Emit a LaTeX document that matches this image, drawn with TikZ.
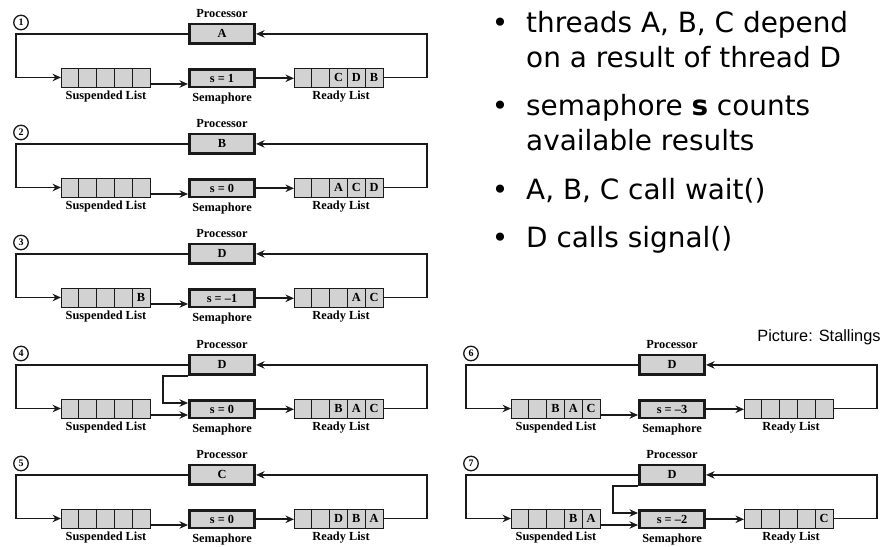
\documentclass[tikz,border=0pt]{standalone}
\usepackage{fontspec}
\setmainfont{Liberation Serif}
\newfontfamily\bulletfont{DejaVu Sans}
\newfontfamily\captfont{Liberation Sans}
\usetikzlibrary{arrows.meta}
\definecolor{boxgray}{HTML}{D2D2D2}
\definecolor{ink}{HTML}{1A1A1A}
\tikzset{
  procbox/.style={draw=ink, line width=2.6bp, fill=boxgray, minimum width=65.5bp,
    minimum height=19.6bp, inner sep=0pt, font=\bfseries\fontsize{12.4}{12.4}\selectfont},
  sembox/.style={procbox, minimum height=17.6bp},
  cell/.style={draw=ink, line width=0.9bp, fill=boxgray, minimum width=17.8bp,
    minimum height=19bp, inner sep=0pt, outer sep=0pt, font=\bfseries\fontsize{12.4}{12.4}\selectfont},
  lbl/.style={font=\bfseries\fontsize{12.4}{12.4}\selectfont, inner sep=0pt},
  conn/.style={draw=ink, line width=1.7bp, -{Stealth[length=8.5bp,width=7.5bp]}},
  numcirc/.style={circle, draw=ink, line width=1.3bp, minimum size=14.5bp, inner sep=0pt,
    font=\bfseries\fontsize{10}{10}\selectfont},
  bul/.style={font=\bulletfont\fontsize{28}{28}\selectfont, inner sep=0pt, anchor=base},
  btxt/.style={font=\bulletfont\fontsize{28}{28}\selectfont, inner sep=0pt, anchor=base west},
  capt/.style={font=\captfont\fontsize{16.4}{16.4}\selectfont, inner sep=0pt, anchor=base},
}
\newcommand\statepanel[7]{%
  \begin{scope}[shift={(#1,#2)}, name prefix=p#3-]
    \node[numcirc] (num) at (21,22.5) {#3};
    \node[lbl] (plabel) at (222,14) {Processor};
    \node[procbox] (proc) at (222,33.9) {#4};
    \node[sembox] (sem) at (222,78.3) {#5};
    \foreach \cc [count=\ci] in {#6} {\node[cell] (s\ci) at ({52.1+17.8*\ci},77.5) {\cc};}
    \foreach \cc [count=\ci] in {#7} {\node[cell] (r\ci) at ({285.1+17.8*\ci},77.5) {\cc};}
    \node[lbl] (slabel) at (106,97) {Suspended List};
    \node[lbl] (semlabel) at (222,99) {Semaphore};
    \node[lbl] (rlabel) at (341,97) {Ready List};
    \coordinate (lc) at (16,77.5);
    \coordinate (rc) at (427,33.9);
    \coordinate (ec) at (163,72);
    \draw[conn] (proc.west) -| (lc) -- (s1.west);
    \draw[conn] ([yshift=-6.5bp]s5.east) -- ([yshift=-6.5bp]s5.east -| sem.west);
    \draw[conn] (sem.east) -- (sem.east -| r1.west);
    \draw[conn] (r5.east) -| (rc) -- (proc.east);
  \end{scope}}
\begin{document}
\begin{tikzpicture}[x=1bp,y=-1bp]
  \useasboundingbox (0,0) rectangle (881,547);
  \statepanel{0}{0}{1}{A}{s = 1}{{},{},{},{},{}}{{},{},C,D,B}
  \statepanel{0}{110}{2}{B}{s = 0}{{},{},{},{},{}}{{},{},A,C,D}
  \statepanel{0}{220}{3}{D}{s = \textendash1}{{},{},{},{},B}{{},{},{},A,C}
  \statepanel{0}{331}{4}{D}{s = 0}{{},{},{},{},{}}{{},{},B,A,C}
  \statepanel{0}{441}{5}{C}{s = 0}{{},{},{},{},{}}{{},{},D,B,A}
  \statepanel{450}{331}{6}{D}{s = \textendash3}{{},{},B,A,C}{{},{},{},{},{}}
  \statepanel{450}{441}{7}{D}{s = \textendash2}{{},{},{},B,A}{{},{},{},{},C}
  \draw[conn] (p4-proc.south west) -| (p4-ec) -- (p4-ec -| p4-sem.west);
  \draw[conn] (p7-proc.south west) -| (p7-ec) -- (p7-ec -| p7-sem.west);
  % bullet list
  \node[bul] (b1) at (500,33) {•};
  \node[btxt] (t1) at (526,33) {threads A, B, C depend};
  \node[btxt] (t2) at (526,68) {on a result of thread D};
  \node[bul] (b2) at (500,116) {•};
  \node[btxt] (t3) at (526,116) {semaphore \textbf{s} counts};
  \node[btxt] (t4) at (526,151) {available results};
  \node[bul] (b3) at (500,200) {•};
  \node[btxt] (t5) at (526,200) {A, B, C call wait()};
  \node[bul] (b4) at (500,248) {•};
  \node[btxt] (t6) at (526,248) {D calls signal()};
  \node[capt] (cap) at (819,342) {Picture: Stallings};
\end{tikzpicture}
\end{document}
